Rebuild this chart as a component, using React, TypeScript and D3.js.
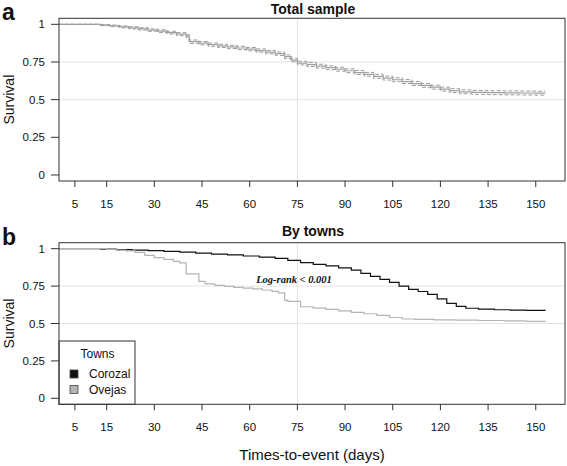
import React from "react";
import * as d3 from "d3";

// ---------- data ----------
const xTicks = [5, 15, 30, 45, 60, 75, 90, 105, 120, 135, 150];
const yTicks = [0, 0.25, 0.5, 0.75, 1];
const yTickLabels = ["0", "0.25", "0.5", "0.75", "1"];
const hGrid = [0.5, 0.75];
const vGrid = [75];

// Panel a: total sample (Kaplan-Meier + 95% CI)
const totalTime = [0, 13, 16, 19, 22, 25, 28, 31, 34, 37, 40, 41, 44, 47, 50, 53, 56, 59, 62, 65, 68, 71, 73, 75, 78, 81, 84, 87, 90, 93, 96, 99, 102, 105, 108, 111, 114, 117, 120, 123, 126, 130, 135, 140, 145, 150, 153];
const totalSurv = [1, 0.995, 0.99, 0.983, 0.977, 0.97, 0.962, 0.955, 0.945, 0.935, 0.922, 0.885, 0.875, 0.865, 0.857, 0.85, 0.843, 0.835, 0.826, 0.815, 0.805, 0.785, 0.763, 0.743, 0.733, 0.722, 0.712, 0.702, 0.692, 0.68, 0.668, 0.655, 0.643, 0.632, 0.62, 0.607, 0.595, 0.583, 0.57, 0.56, 0.552, 0.548, 0.546, 0.545, 0.544, 0.543, 0.543];
const totalUpper = [1, 0.999, 0.995, 0.989, 0.984, 0.978, 0.97, 0.964, 0.954, 0.945, 0.932, 0.896, 0.886, 0.876, 0.868, 0.861, 0.854, 0.846, 0.837, 0.826, 0.816, 0.797, 0.775, 0.755, 0.746, 0.735, 0.725, 0.715, 0.705, 0.693, 0.681, 0.668, 0.656, 0.645, 0.633, 0.62, 0.608, 0.596, 0.583, 0.573, 0.565, 0.561, 0.559, 0.558, 0.557, 0.556, 0.556];
const totalLower = [1, 0.991, 0.985, 0.977, 0.97, 0.962, 0.954, 0.946, 0.936, 0.925, 0.912, 0.874, 0.864, 0.854, 0.846, 0.839, 0.832, 0.824, 0.815, 0.804, 0.794, 0.773, 0.751, 0.731, 0.72, 0.709, 0.699, 0.689, 0.679, 0.667, 0.655, 0.642, 0.63, 0.619, 0.607, 0.594, 0.582, 0.57, 0.557, 0.547, 0.539, 0.535, 0.533, 0.532, 0.531, 0.53, 0.53];

// Panel b: by towns
const corozalTime = [0, 13, 18, 23, 28, 33, 38, 43, 48, 53, 58, 63, 68, 72, 76, 80, 84, 88, 92, 95, 98, 101, 104, 107, 110, 113, 116, 119, 122, 125, 128, 132, 137, 142, 147, 153];
const corozalSurv = [1, 0.997, 0.994, 0.99, 0.987, 0.982, 0.977, 0.97, 0.964, 0.958, 0.951, 0.944, 0.935, 0.922, 0.907, 0.895, 0.885, 0.872, 0.857, 0.835, 0.815, 0.795, 0.775, 0.75, 0.728, 0.714, 0.695, 0.665, 0.635, 0.615, 0.602, 0.596, 0.592, 0.59, 0.588, 0.587];
const ovejasTime = [0, 15, 18, 21, 24, 27, 30, 33, 36, 38, 40, 44, 46, 49, 52, 55, 58, 61, 64, 67, 69, 71, 72, 76, 80, 84, 88, 92, 96, 100, 104, 108, 112, 118, 125, 132, 140, 147, 153];
const ovejasSurv = [1, 0.996, 0.99, 0.985, 0.975, 0.955, 0.94, 0.928, 0.915, 0.905, 0.832, 0.782, 0.765, 0.755, 0.748, 0.742, 0.737, 0.731, 0.724, 0.715, 0.705, 0.655, 0.648, 0.612, 0.603, 0.594, 0.584, 0.574, 0.565, 0.554, 0.54, 0.53, 0.527, 0.524, 0.522, 0.52, 0.517, 0.514, 0.512];

const townNames = ["Corozal", "Ovejas"];
const townColors = ["#111111", "#b4b4b4"];

// ---------- layout ----------
const W = 567;
const H = 466;
const LEFT = 59;
const RIGHT = 565;
const xScale = d3.scaleLinear().domain([0, 159.2]).range([LEFT, RIGHT]);

const SANS = "'Liberation Sans', Arial, sans-serif";

type Pt = [number, number];
const zip = (t: number[], s: number[]): Pt[] => t.map((v, i) => [v, s[i]]);

function Panel({ top, bottom, title, titleY, letter, children }: any) {
  const y = d3.scaleLinear().domain([-0.04, 1.04]).range([bottom, top]);
  return (
    <g>
      {hGrid.map((g) => (
        <line key={"h" + g} x1={LEFT} x2={RIGHT} y1={y(g)} y2={y(g)} stroke="#e4e4e4" strokeWidth={1} />
      ))}
      {vGrid.map((g) => (
        <line key={"v" + g} x1={xScale(g)} x2={xScale(g)} y1={top} y2={bottom} stroke="#e4e4e4" strokeWidth={1} />
      ))}
      {children(y)}
      <rect x={LEFT} y={top} width={RIGHT - LEFT} height={bottom - top} fill="none" stroke="#333" strokeWidth={1} />
      {yTicks.map((t, i) => (
        <g key={"yt" + t}>
          <line x1={LEFT - 8} x2={LEFT} y1={y(t)} y2={y(t)} stroke="#333" />
          <text x={45} y={y(t)} textAnchor="end" dominantBaseline="central" fontSize={11.5} fontFamily={SANS} fill="#111">
            {yTickLabels[i]}
          </text>
        </g>
      ))}
      {xTicks.map((t) => (
        <g key={"xt" + t}>
          <line x1={xScale(t)} x2={xScale(t)} y1={bottom} y2={bottom + 6} stroke="#333" />
          <text x={xScale(t)} y={bottom + 23} textAnchor="middle" dominantBaseline="central" fontSize={11.5} fontFamily={SANS} fill="#111">
            {t}
          </text>
        </g>
      ))}
      <text
        transform={`translate(9,${(top + bottom) / 2}) rotate(-90)`}
        textAnchor="middle"
        dominantBaseline="central"
        fontSize={14}
        fontFamily={SANS}
        fill="#111"
      >
        Survival
      </text>
      <text x={(LEFT + RIGHT) / 2 + 1} y={titleY} textAnchor="middle" fontSize={14} fontWeight="bold" fontFamily={SANS} fill="#111">
        {title}
      </text>
      <text x={2} y={top + 2} fontSize={23} fontWeight="bold" fontFamily={SANS} fill="#111">
        {letter}
      </text>
    </g>
  );
}

export default function App() {
  const step = (y: d3.ScaleLinear<number, number>) =>
    d3
      .line<Pt>()
      .x((d) => xScale(d[0]))
      .y((d) => y(d[1]))
      .curve(d3.curveStepAfter);

  return (
    <svg width={W} height={H} style={{ position: "absolute", left: 0, top: 0, background: "#fff" }}>
      <rect width={W} height={H} fill="#fff" />
      <Panel top={18.3} bottom={181} title="Total sample" titleY={13.5} letter="a">
        {(y: any) => {
          const l = step(y);
          return (
            <g fill="none">
              <path d={l(zip(totalTime, totalUpper)) || ""} stroke="#9a9a9a" strokeWidth={1} strokeDasharray="4,2" />
              <path d={l(zip(totalTime, totalLower)) || ""} stroke="#9a9a9a" strokeWidth={1} strokeDasharray="4,2" />
              <path d={l(zip(totalTime, totalSurv)) || ""} stroke="#a0a0a0" strokeWidth={1.2} />
            </g>
          );
        }}
      </Panel>
      <Panel top={242.7} bottom={404.3} title="By towns" titleY={235.5} letter="b">
        {(y: any) => {
          const l = step(y);
          return (
            <g fill="none">
              <path d={l(zip(corozalTime, corozalSurv)) || ""} stroke={townColors[0]} strokeWidth={1.2} />
              <path d={l(zip(ovejasTime, ovejasSurv)) || ""} stroke={townColors[1]} strokeWidth={1.2} />
              <text x={294} y={279} textAnchor="middle" dominantBaseline="central" fontSize={10.5} fontStyle="italic" fontWeight="bold" fontFamily="'Liberation Serif', 'Times New Roman', serif" fill="#111">
                {"Log-rank < 0.001"}
              </text>
              {/* legend */}
              <rect x={LEFT} y={341} width={76} height={404.3 - 341} fill="#fff" stroke="#333" strokeWidth={1} />
              <text x={97.5} y={353.5} textAnchor="middle" dominantBaseline="central" fontSize={12} fontFamily={SANS} fill="#111">
                Towns
              </text>
              {townNames.map((n, i) => (
                <g key={n}>
                  <rect x={70} y={370 + i * 15.5} width={8} height={8} fill={townColors[i]} stroke="#444" strokeWidth={0.8} />
                  <text x={89} y={374 + i * 15.5} dominantBaseline="central" fontSize={12} fontFamily={SANS} fill="#111">
                    {n}
                  </text>
                </g>
              ))}
            </g>
          );
        }}
      </Panel>
      <text x={312} y={460} textAnchor="middle" fontSize={15} fontFamily={SANS} fill="#111">
        Times-to-event (days)
      </text>
    </svg>
  );
}
